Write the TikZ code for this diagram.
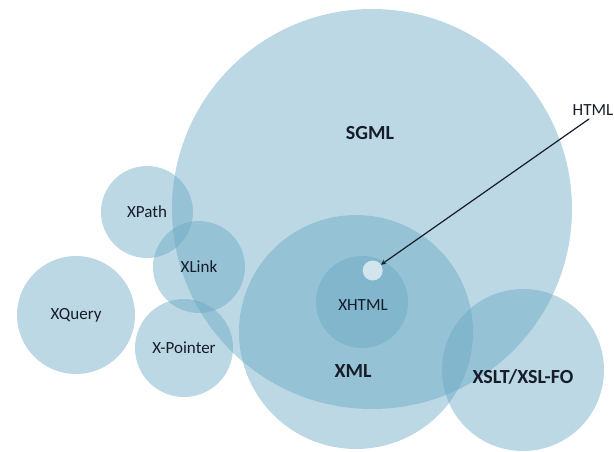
\documentclass[tikz,border=0pt]{standalone}
\usepackage{fontspec}
\setmainfont{Carlito}
\definecolor{bubble}{RGB}{100,165,193}
\definecolor{htmldot}{RGB}{210,229,237}
\definecolor{ink}{RGB}{22,28,40}
\tikzset{blob/.style={circle,fill=bubble,fill opacity=0.43,inner sep=0pt,minimum size=#1},
	lbl/.style={text=ink,font=\fontsize{17}{19}\selectfont},
	biglbl/.style={text=ink,font=\fontsize{20}{22}\selectfont\bfseries}}
\begin{document}
\begin{tikzpicture}[x=1pt,y=-1pt,>=stealth,line join=round,line cap=round]
	\useasboundingbox (0,0) rectangle (614,451);
	\node[blob=400pt] (sgml) at (372,209) {};
	\node[blob=234pt] (xml) at (356,332) {};
	\node[blob=92pt] (xhtml) at (362,302) {};
	\node[blob=162pt] (xslt) at (523,370) {};
	\foreach \n/\p/\d in {xpath/{147,212}/92,xlink/{199,267}/92,xquery/{76,315}/118,xpointer/{184,348}/98}
		\node[blob=\d pt] (\n) at (\p) {};
	\node[circle,fill=htmldot,inner sep=0pt,minimum size=20pt] (html) at (372.7,270.5) {};
	% labels
	\node[biglbl] (sgml-txt) at (370,133) {SGML};
	\node[biglbl] (xml-txt) at (353,371) {XML};
	\node[biglbl] (xslt-txt) at (523,377) {XSLT/XSL-FO};
	\node[lbl] (xhtml-txt) at (363,305) {XHTML};
	\node[lbl] (html-txt) at (593,110) {HTML};
	\foreach \n/\t in {xpath/XPath,xlink/XLink,xquery/XQuery,xpointer/X-Pointer}
		\node[lbl] (\n-txt) at (\n) {\t};
	\draw[->,color=ink,line width=1.2pt] ([xshift=-4pt]html-txt.south) -- (html);
\end{tikzpicture}
\end{document}
